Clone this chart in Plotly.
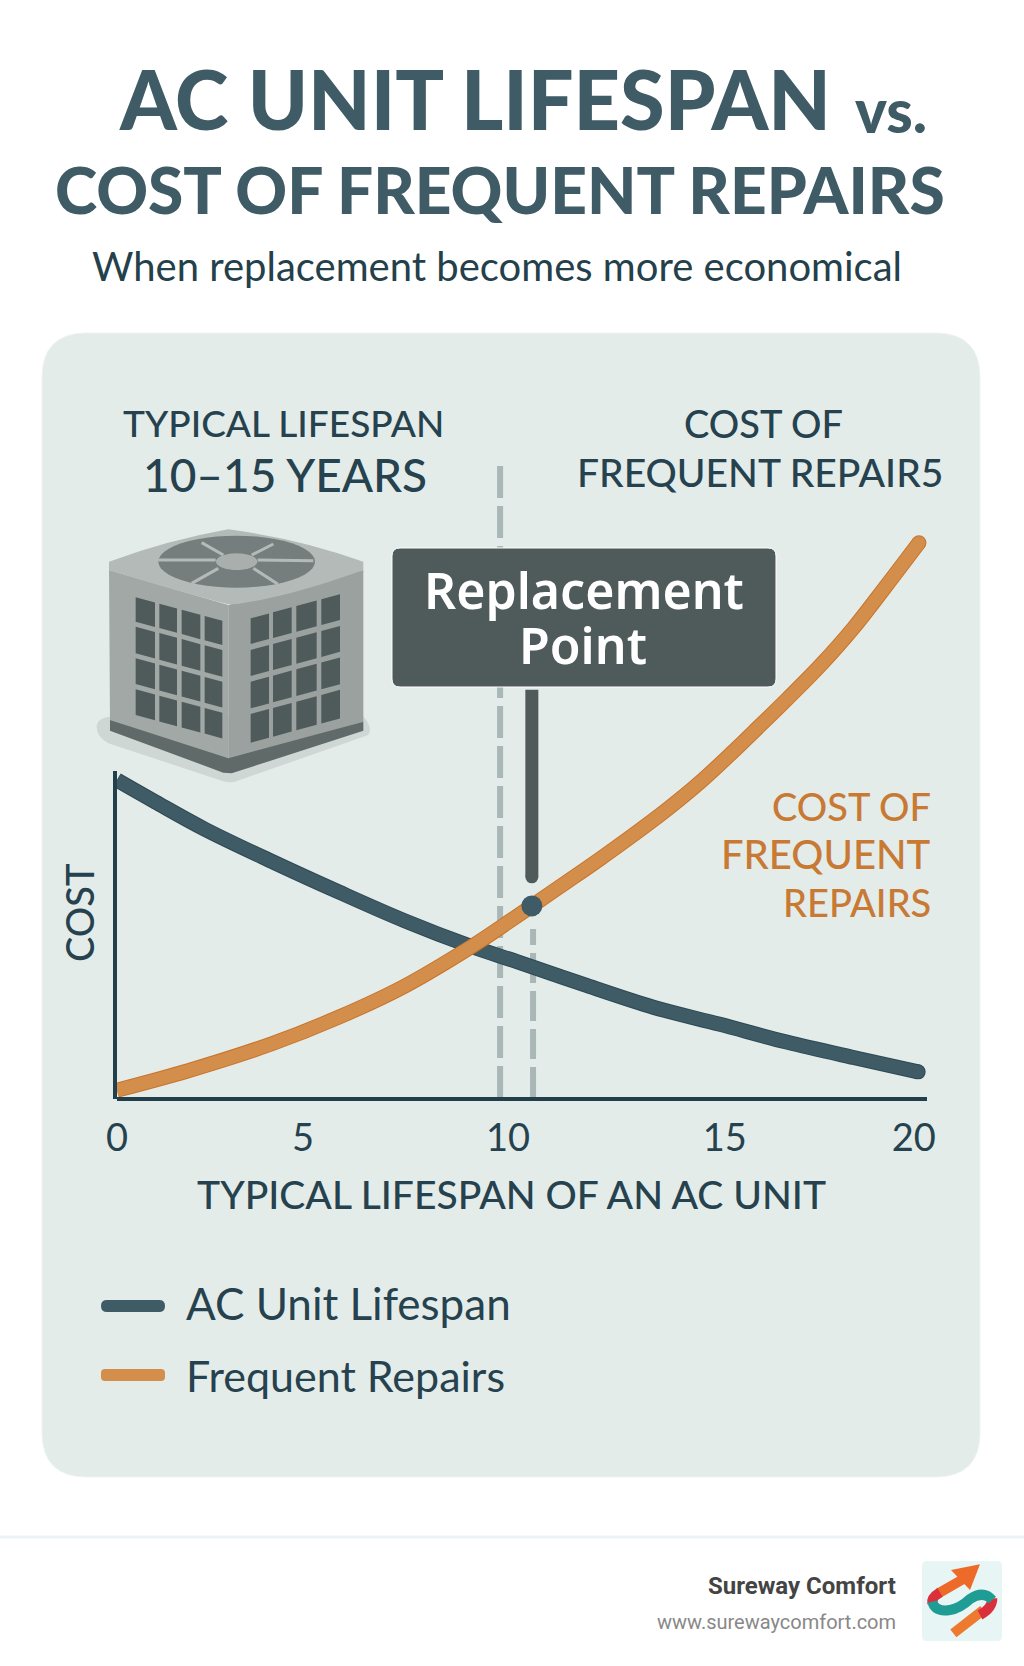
import math

import plotly.graph_objects as go

# curves (x in years, y in cost units)
lifespan_x = [0, 0.95, 2.19, 3.85, 5.5, 7.16, 8.82, 10.02, 11.68, 13.34, 15.0, 16.66, 18.32, 19.93]
lifespan_y = [55.4, 51.6, 46.8, 41.2, 35.9, 30.8, 26.3, 23.5, 19.5, 15.7, 12.7, 9.6, 6.9, 4.4]
repairs_x = [0, 1.77, 3.85, 5.5, 7.16, 8.82, 9.53, 10.32, 11.19, 12.01, 12.84, 13.67, 14.5, 15.33, 15.83, 16.66, 17.49, 18.32, 19.15, 19.95]
repairs_y = [1.2, 4.6, 9.3, 13.9, 19.4, 26.3, 29.6, 33.4, 37.6, 41.6, 45.8, 50.2, 55.0, 60.4, 63.8, 69.5, 75.4, 82.0, 89.5, 96.9]

# the printed ticks are not evenly spaced in the picture
tick_labels = ["0", "5", "10", "15", "20"]
tick_at = [0, 4.63, 9.73, 15.12, 19.82]

lifespan_mark = 9.53
replacement_year = 10.32
replacement_cost = 33.4
stem_cost = [71.2, 38.5]

legend_names = ["AC Unit Lifespan", "Frequent Repairs"]

DARK = "#3f5b66"
DARK_EDGE = "#2d4955"
ORANGE = "#d38e4b"
ORANGE_EDGE = "#c9742a"
INK = "#26424e"
BOX = "#4f5a5a"
W, H = 1024, 1666


def fx(x):
    return x / W


def fy(y):
    return 1 - y / H


def p(x, y):
    return f"{x / W:.5f},{1 - y / H:.5f}"


def rounded(x0, y0, x1, y1, r):
    return (
        f"M{p(x0 + r, y0)} L{p(x1 - r, y0)} Q{p(x1, y0)} {p(x1, y0 + r)} "
        f"L{p(x1, y1 - r)} Q{p(x1, y1)} {p(x1 - r, y1)} "
        f"L{p(x0 + r, y1)} Q{p(x0, y1)} {p(x0, y1 - r)} "
        f"L{p(x0, y0 + r)} Q{p(x0, y0)} {p(x0 + r, y0)} Z"
    )


def path(d, fill=None, color=None, width=0, layer="below"):
    return dict(
        type="path", path=d, xref="paper", yref="paper", layer=layer,
        fillcolor=fill or "rgba(0,0,0,0)",
        line=dict(color=color or "rgba(0,0,0,0)", width=width),
    )


def label(text, x, y, size, color=INK, anchor="center", weight=500, family="Lato", angle=0):
    return dict(
        text=text, x=fx(x), y=fy(y), xref="paper", yref="paper",
        xanchor=anchor, yanchor="middle", showarrow=False, textangle=angle,
        font=dict(family=family, size=size, color=color, weight=weight),
    )


def end_cap(n, color, size):
    # only the last point of a curve gets a round end
    return dict(color=color, size=[0] * (n - 1) + [size], opacity=1, line=dict(width=0))


# air conditioner icon, zoom coords -> page
def u(zx, zy):
    return p(95 + zx / 3, 520 + zy / 3)


def poly(points):
    return "M" + " L".join(u(a, b) for a, b in points) + " Z"


def grille(cols, tops, bottoms, x_ref, slope):
    d = ""
    for x0, x1 in cols:
        for top, bot in zip(tops, bottoms):
            d += poly([
                (x0, top + (x0 - x_ref) * slope), (x1, top + (x1 - x_ref) * slope),
                (x1, bot + (x1 - x_ref) * slope), (x0, bot + (x0 - x_ref) * slope),
            ]) + " "
    return d


def ellipse(cx, cy, rx, ry):
    pts = []
    for i in range(48):
        a = 2 * math.pi * i / 48
        pts.append((cx + rx * math.cos(a), cy + ry * math.sin(a)))
    return poly(pts)


icon = [
    path(
        f"M{u(5, 620)} Q{u(5, 595)} {u(45, 590)} L{u(805, 590)} Q{u(835, 620)} {u(820, 645)} "
        f"L{u(420, 785)} Q{u(400, 790)} {u(380, 782)} L{u(40, 670)} Q{u(5, 650)} {u(5, 620)} Z",
        fill="#cfd7d5",
    ),
    path(poly([(42, 150), (400, 255), (400, 720), (45, 600)]), fill="#a1a8a6"),
    path(poly([(805, 150), (400, 255), (400, 720), (805, 605)]), fill="#9aa19f"),
    path(poly([(45, 600), (400, 715), (805, 605), (805, 632), (410, 760), (385, 758), (45, 632)]), fill="#5f6a69"),
    path(
        f"M{u(42, 125)} Q{u(220, 60)} {u(400, 28)} Q{u(610, 55)} {u(805, 125)} L{u(805, 150)} "
        f"Q{u(600, 225)} {u(440, 250)} Q{u(410, 258)} {u(370, 245)} Q{u(200, 200)} {u(42, 150)} Z",
        fill="#b4bab8",
    ),
    path(ellipse(425, 125, 235, 78), fill="#767e7d"),
    path(
        f"M{u(320, 68)} L{u(385, 105)} M{u(535, 72)} L{u(470, 105)} M{u(190, 120)} L{u(362, 120)} "
        f"M{u(488, 120)} L{u(655, 122)} M{u(290, 190)} L{u(370, 145)} M{u(548, 192)} L{u(475, 145)}",
        color="#b4bab8", width=3,
    ),
    path(ellipse(425, 125, 62, 25), fill="#a9afad"),
    path(
        grille([(122, 180), (193, 246), (260, 316), (329, 382)],
               [232, 320, 415, 508], [305, 400, 492, 585], 122, 0.27),
        fill=BOX,
    ),
    path(
        grille([(467, 522), (534, 590), (604, 665), (679, 735)],
               [295, 390, 485, 582], [372, 468, 565, 668], 467, -0.27),
        fill=BOX,
    ),
]


# logo, zoom coords -> page
def v(zx, zy):
    return p(915 + zx / 3, 1555 + zy / 3)


logo = [
    path(rounded(922, 1561, 1002, 1641, 5), fill="#e8f5f5"),
    path(f"M{v(205, 165)} L{v(115, 235)}", color="#ee7a30", width=10),
    path(f"M{v(232, 130)} Q{v(232, 160)} {v(195, 180)}", color="#d9303c", width=10),
    path(f"M{v(145, 72)} L{v(70, 115)}", color="#ee6a28", width=10),
    path(f"M{v(75, 112)} Q{v(48, 128)} {v(52, 145)}", color="#d9303c", width=10),
    path(
        f"M{v(52, 140)} Q{v(60, 172)} {v(105, 165)} Q{v(135, 160)} {v(165, 132)} Q{v(205, 105)} {v(232, 135)}",
        color="#1f9c94", width=10,
    ),
    path(f"M{v(195, 28)} L{v(108, 45)} L{v(165, 105)} Z", fill="#ee6a28"),
]

shapes = [
    path(rounded(42, 333, 980, 1477, 45), fill="#e4ecea", color="#eef3f2", width=1),
    dict(type="line", xref="paper", yref="paper", x0=0, x1=1, y0=fy(1537), y1=fy(1537),
         line=dict(color="#eaf4f4", width=3), layer="below"),
    dict(type="line", xref="x", yref="paper", x0=lifespan_mark, x1=lifespan_mark, y0=fy(466), y1=fy(1097),
         line=dict(color="#a9b7b7", width=6, dash="32px,8px"), layer="below"),
    dict(type="line", xref="x", yref="paper", x0=replacement_year + 0.03, x1=replacement_year + 0.03,
         y0=fy(1097), y1=fy(929), line=dict(color="#a9b7b7", width=6, dash="30px,8px"), layer="below"),
    dict(type="line", xref="paper", yref="paper", x0=fx(115), x1=fx(115), y0=fy(771), y1=fy(1099),
         line=dict(color="#22404c", width=4), layer="below"),
    *icon,
    path(rounded(392, 548, 776, 687, 8), fill=BOX, color="#ffffff", width=1, layer="above"),
    path(rounded(101, 1300, 165, 1312, 6), fill=DARK),
    path(rounded(101, 1369, 165, 1381, 4), fill=ORANGE),
    *logo,
]

annotations = [
    label("AC UNIT LIFESPAN", 475, 98, 81, color=DARK, weight=900),
    label("vs.", 891, 110, 60, color=DARK, weight=900),
    label("COST OF FREQUENT REPAIRS", 500, 189, 64, color=DARK, weight=900),
    label("When replacement becomes more economical", 497, 266, 40, color="#24404a", weight=400),
    label("TYPICAL LIFESPAN", 283, 423, 37),
    label("10–15 YEARS", 285, 475, 46),
    label("COST OF", 763, 423, 38),
    label("FREQUENT REPAIR5", 760, 472, 39),
    label("Replacement", 584, 590, 50, color="#ffffff", weight=600, family="Noto Sans"),
    label("Point", 583, 645, 50, color="#ffffff", weight=600, family="Noto Sans"),
    label("COST OF", 933, 806, 38, color="#c87a35", anchor="right"),
    label("FREQUENT", 933, 854, 40, color="#c87a35", anchor="right"),
    label("REPAIRS", 933, 902, 38, color="#c87a35", anchor="right"),
    label("COST", 79, 913, 38, angle=-90),
    label("TYPICAL LIFESPAN OF AN AC UNIT", 511, 1194, 39),
    label(legend_names[0], 184, 1303, 44, anchor="left", weight=400),
    label(legend_names[1], 184, 1375, 43, anchor="left", weight=400),
    label("Sureway Comfort", 898, 1586, 24, color="#444444", anchor="right", weight=700, family="Roboto"),
    label("www.surewaycomfort.com", 898, 1622, 20, color="#888888", anchor="right", weight=400, family="Roboto"),
]

fig = go.Figure()
fig.add_trace(go.Scatter(
    x=[replacement_year, replacement_year], y=stem_cost, mode="lines+markers",
    line=dict(color=BOX, width=13), marker=end_cap(2, BOX, 13),
    showlegend=False, hoverinfo="skip",
))

# darker edge under each curve, then the fill
for name, xs, ys, edge, fill in [
    (legend_names[0], lifespan_x, lifespan_y, DARK_EDGE, DARK),
    (legend_names[1], repairs_x, repairs_y, ORANGE_EDGE, ORANGE),
]:
    fig.add_trace(go.Scatter(
        x=xs, y=ys, mode="lines+markers", showlegend=False, hoverinfo="skip",
        line=dict(color=edge, width=15, shape="spline"),
        marker=end_cap(len(xs), edge, 15),
    ))
    fig.add_trace(go.Scatter(
        x=xs, y=ys, name=name, mode="lines+markers",
        line=dict(color=fill, width=13, shape="spline"),
        marker=end_cap(len(xs), fill, 13),
    ))

fig.add_trace(go.Scatter(
    x=[replacement_year], y=[replacement_cost], mode="markers",
    marker=dict(color=DARK, size=21), showlegend=False, hoverinfo="skip",
))

fig.update_layout(
    width=W,
    height=H,
    margin=dict(l=0, r=0, t=0, b=0, autoexpand=False),
    paper_bgcolor="#ffffff",
    plot_bgcolor="rgba(0,0,0,0)",
    showlegend=False,
    shapes=shapes,
    annotations=annotations,
)
fig.update_xaxes(
    domain=[fx(117), fx(927)], range=[0, 20.15], showgrid=False, zeroline=False,
    showline=True, linecolor="#22404c", linewidth=4,
    tickvals=tick_at, ticktext=tick_labels, ticks="", ticklabelstandoff=4,
    tickfont=dict(family="Lato", size=38, color=INK),
)
fig.update_yaxes(
    domain=[fy(1097), fy(525)], range=[0, 100], showgrid=False, zeroline=False,
    showline=False, showticklabels=False, ticks="",
)

fig.write_html("out.html", config={"displayModeBar": False}, post_script="document.body.style.margin='0';")
